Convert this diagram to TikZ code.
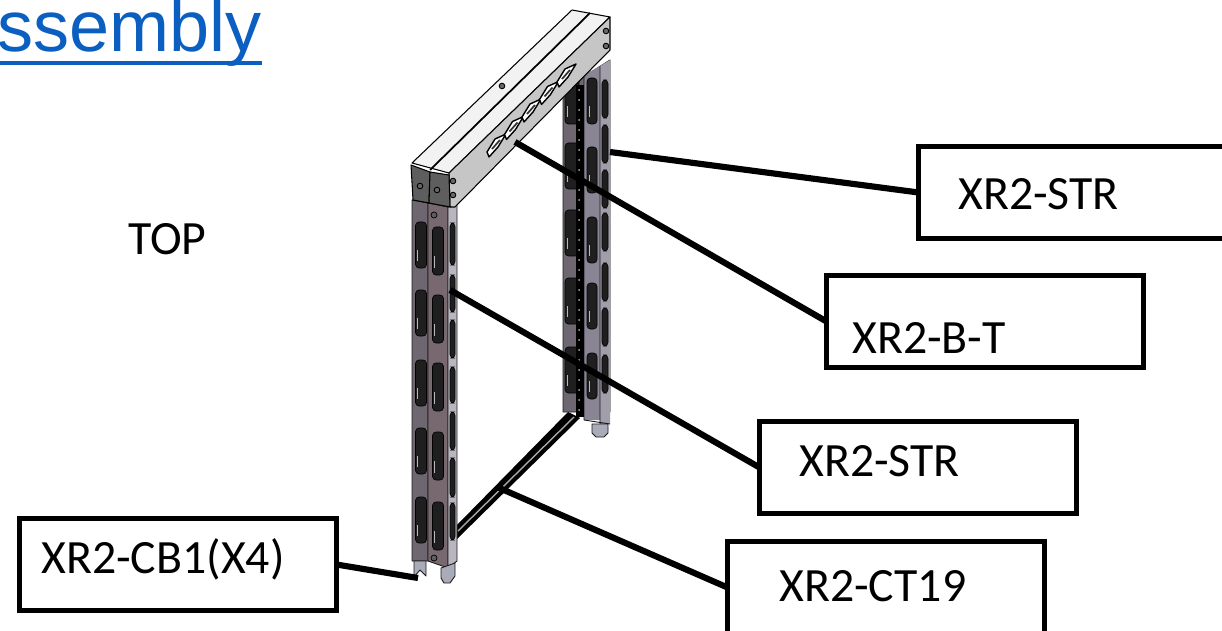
\documentclass[tikz,border=0pt]{standalone}
\usepackage{fontspec}
\setmainfont{Carlito}
\newfontfamily\arialfont{Liberation Sans}
\definecolor{linkblue}{HTML}{0B5FC0}
\definecolor{postA}{HTML}{6E6670}
\definecolor{postB}{HTML}{77696F}
\definecolor{postC}{HTML}{8A8595}
\definecolor{endgrey}{HTML}{5E5E5E}
\definecolor{beamside}{HTML}{C6C6C6}
\definecolor{beamtop}{HTML}{F2F2F2}
\definecolor{tabgrey}{HTML}{A9ACB8}
\tikzset{
  callout/.style={draw=black,line width=2.9pt,fill=white,minimum width=6.34cm,minimum height=1.84cm,inner sep=0pt,outer sep=0pt,anchor=north west},
  lbl/.style={font=\fontsize{27.2pt}{27.2pt}\selectfont,inner sep=0pt,anchor=base west,text=black},
  leader/.style={draw=black,line width=3.5pt},
  edge/.style={draw=black!75!postA,line width=.5pt,line join=round},
  slot/.style={fill=black!88,draw=black,line width=.35pt,rounded corners=2pt},
}
\newcommand{\slotat}[4]{\filldraw[slot] (#1-#3/2,#2) rectangle (#1+#3/2,#2+#4);
  \fill[postC!60!white] (#1-#3/2+1.5,#2+#4*.6) rectangle (#1-#3/2+2.5,#2+#4*.85);}
\begin{document}
\begin{tikzpicture}[x=0.02cm,y=-0.02cm]
\useasboundingbox (0,0) rectangle (1222,631);
% title
\node[font=\arialfont\fontsize{41pt}{41pt}\selectfont,text=linkblue,inner sep=0pt,anchor=base east] (title) at (262,52) {ssembly};
\fill[linkblue] (0,61.5) rectangle (262,65.5);
\node[lbl] (top) at (128,255) {TOP};
% crossbar
\fill[black,line join=round] (456,526) -- (568,412) -- (580,418) -- (457,539) -- cycle;
\draw[white!65!black,line width=.8pt] (458,531) -- (574,417);
% right post
\fill[postA,edge] (563,90) -- (610,60) -- (610,412) -- (590,412) -- (563,412) -- cycle;
\fill[postC] (584,75) -- (600,66) -- (600,420) -- (584,420) -- cycle;
\fill[postC!80!white] (600,66) -- (610,60) -- (610,424) -- (600,424) -- cycle;
\draw[edge] (584,75) -- (584,420) -- (610,424) (600,66) -- (600,424);
\fill[tabgrey,edge] (592,424) -- (608,424) -- (608,433) -- (604,437) -- (596,437) -- (592,433) -- cycle;
\foreach \y in {78,143,210,278,347} {\slotat{572}{\y}{14}{46}}
\fill[black] (576,85) rectangle (584,417);
\foreach \y in {90,100,...,410} {\fill[white!70!black] (579,\y) circle (1);}
\foreach \y in {78,147,217,283,353} {\slotat{592}{\y}{10}{46}}
\foreach \y in {80,125,170,213,263,308,355} {\filldraw[slot] (602,\y) rectangle (608,\y+38);}
% left post
\fill[postA,edge] (412,200) -- (428,203) -- (428,561) -- (412,561) -- cycle;
\fill[postB,edge] (428,203) -- (448,207) -- (448,568) -- (428,561) -- cycle;
\fill[postC!60!white,edge] (448,207) -- (457,205) -- (457,561) -- (448,568) -- cycle;
\fill[tabgrey,edge] (414,561) -- (426,561) -- (426,576) -- (420,570) -- (414,577) -- cycle;
\fill[tabgrey,edge] (441,568) -- (455,563) -- (455,576) -- (450,583) -- (444,583) -- (441,578) -- cycle;
\foreach \y in {222,290,360,428,497} {\slotat{421}{\y}{11}{46}}
\foreach \y in {227,295,363,432,502} {\slotat{438}{\y}{11}{48}}
\foreach \a/\b in {223/265,275/312,320/358,367/403,412/450,458/497,503/540} {\filldraw[slot] (450,\a) rectangle (455,\b);}
\filldraw[fill=endgrey,draw=black,line width=.4pt] (434,558) circle (3);
\filldraw[fill=endgrey,draw=black,line width=.4pt] (434,215) circle (3);
% beam
\filldraw[fill=beamtop,draw=black,line width=.6pt,line join=round] (412,163) -- (572,10) -- (610,17) -- (449,173) -- cycle;
\draw[black,line width=1pt] (430,170) -- (590,13);
\filldraw[fill=beamside,draw=black,line width=.6pt,line join=round] (449,173) -- (610,17) -- (610,50) -- (455,207) -- (450,207) -- cycle;
\filldraw[fill=endgrey,draw=black,line width=.6pt,line join=round] (411,165) -- (430,172) -- (429,203) -- (413,200) -- cycle;
\filldraw[fill=endgrey,draw=black,line width=.6pt,line join=round] (430,172) -- (449,175) -- (450,207) -- (429,203) -- cycle;
\foreach \x/\y in {420/186,437/190,453/181,453/195,606/31,606/46,502/86} {\filldraw[fill=black!60,draw=black,line width=.5pt] (\x,\y) circle (2.8);}
% beam cut-outs
\foreach \i in {0,1,2,3,4} {
  \pgfmathsetmacro{\bx}{487+\i*17.5}
  \pgfmathsetmacro{\by}{152-\i*17.5}
  \filldraw[fill=white,draw=black,line width=.8pt,line join=round] (\bx,\by) -- (\bx+8,\by-13) -- (\bx+19,\by-18) -- (\bx+11,\by-5) -- (\bx+2,\by+5) -- cycle;
  \draw[black!80,line width=1pt] (\bx+5,\by-3) -- (\bx+13,\by-12);
}
% callouts
\node[callout] (strtop) at (918.5,146.5) {};
\node[callout] (bt) at (826.5,275.5) {};
\node[callout] (strlow) at (759.5,421.5) {};
\node[callout] (ct) at (727.5,541.5) {};
\node[callout] (cb) at (19.5,518.5) {};
\node[lbl] (tstr) at (958,210) {XR2-STR};
\node[lbl] (tbt) at (852,353) {XR2-B-T};
\node[lbl] (tstrl) at (799,476) {XR2-STR};
\node[lbl] (tct) at (779,601) {XR2-CT19};
\node[lbl] (tcb) at (41,573) {XR2-CB1(X4)};
% leaders
\coordinate (pa) at (610,152);
\coordinate (pb) at (515,142);
\coordinate (pc) at (450,290);
\coordinate (pd) at (497,487);
\coordinate (pe) at (418,578);
\draw[leader] (pa) -- (strtop.west);
\draw[leader] (pb) -- (bt.west);
\draw[leader] (pc) -- (strlow.west);
\draw[leader] (pd) -- (ct.west);
\draw[leader] (pe) -- (cb.east);
\end{tikzpicture}
\end{document}
